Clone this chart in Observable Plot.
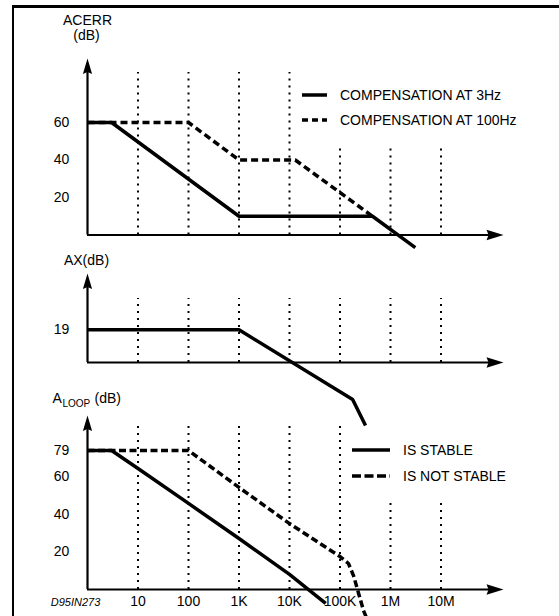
<!DOCTYPE html>
<html><head><meta charset="utf-8">
<script src="https://cdn.jsdelivr.net/npm/d3@7"></script>
<script src="https://cdn.jsdelivr.net/npm/@observablehq/plot@0.6"></script>
<style>
html,body{margin:0;padding:0;background:#fff;}
#wrap{position:relative;width:559px;height:616px;overflow:hidden;font-family:"Liberation Sans",Arial,sans-serif;color:#000;}
#wrap svg{position:absolute;left:0;top:0;overflow:visible;}
#frame{position:absolute;left:12px;top:5px;width:700px;height:800px;border-left:2px solid #000;border-top:3px solid #000;box-sizing:border-box;}
.row{position:absolute;height:20px;display:flex;align-items:center;font-size:14px;white-space:nowrap;}
.row svg{position:static !important;display:block;}
</style></head><body><div id="wrap"><div id="frame"></div></div>
<script>
// ---------- shared frequency axis ----------
const decades = [10, 100, 1e3, 1e4, 1e5, 1e6, 1e7];
const decadeLabels = ["10", "100", "1K", "10K", "100K", "1M", "10M"];
const xArrowTip = 1.73e8;
const xAxisEnd = 9.2e7;

// ---------- panel 1 : ACERR ----------
const acerrTicks = [60, 40, 20];
const acerr3HzFreq = [1, 3, 1000, 440000, 3.1e6];
const acerr3HzDb   = [60, 60, 10, 10, -6.7];
const acerr100HzFreq = [1, 100, 1000, 13000, 440000];
const acerr100HzDb   = [60, 60, 40, 40, 10];
const acerrGridTop = [86.7, 86.7, 86.7, 86.7, 46.7, 46.7, 46.7];
const acerrLegend = ["COMPENSATION AT 3Hz", "COMPENSATION AT 100Hz"];

// ---------- panel 2 : AX ----------
const axTicks = [19];
const axFreq = [1, 1000, 178000, 320000];
const axDb   = [19, 19, -21.5, -36.6];
const axGridTop = [37.2, 37.2, 37.2, 37.2, 37.2, 37.2, 37.2];

// ---------- panel 3 : ALOOP ----------
const aloopTicks = [79, 60, 40, 20];
const stableFreq = [1, 3, 10, 100, 1000, 10000, 52000];
const stableDb   = [79, 79, 65.8, 45.7, 27.1, 8.0, -7.4];
const notStableFreq = [1, 100, 1000, 10000, 100000, 147000, 185000, 222000, 292000, 366000];
const notStableDb   = [79, 79, 54.2, 35.0, 17.5, 13.8, 7.4, 0, -11.2, -17.5];
const aloopGridTop = [97.3, 97.3, 97.3, 97.3, 97.3, 47.3, 47.3];
const aloopLegend = ["IS STABLE", "IS NOT STABLE"];

const zip = (f, v) => f.map((x, i) => ({f: x, db: v[i]}));

const arrowUp = {draw(ctx){ctx.moveTo(0,0);ctx.lineTo(4.6,15.5);ctx.lineTo(0,13.5);ctx.lineTo(-4.6,15.5);ctx.closePath();}};
const arrowRight = {draw(ctx){ctx.moveTo(0,0);ctx.lineTo(5.2,17);ctx.lineTo(0,15);ctx.lineTo(-5.2,17);ctx.closePath();}};

const FONT = "Liberation Sans, Arial, sans-serif";
const xScale = {type: "log", domain: [1, 1e7], range: [87, 440.5], axis: null};

function axesMarks(yTip, yAxisTop, gridTop, ticks) {
  return [
    Plot.ruleX(decades.map((d, i) => ({f: d, top: gridTop[i]})), {x: "f", y1: 0, y2: "top", stroke: "black", strokeWidth: 2, strokeDasharray: "2,5"}),
    Plot.ruleX([1], {x: d => d, y1: 0, y2: yAxisTop, stroke: "black", strokeWidth: 2.2}),
    Plot.ruleY([0], {y: d => d, x1: 1, x2: xAxisEnd, stroke: "black", strokeWidth: 2.2}),
    Plot.dot([{f: 1, db: yTip}], {x: "f", y: "db", symbol: arrowUp, r: 1, fill: "black", stroke: "none"}),
    Plot.dot([{f: xArrowTip, db: 0}], {x: "f", y: "db", symbol: arrowRight, rotate: 90, r: 1, fill: "black", stroke: "none"}),
    Plot.text(ticks, {x: () => 1, y: d => d, text: d => String(d), dx: -26, fontSize: 14, fill: "black"})
  ];
}

const solid = {x: "f", y: "db", stroke: "black", strokeWidth: 3.5, strokeLinejoin: "miter", strokeLinecap: "butt"};
const dashed = {...solid, strokeDasharray: "7,4"};

const common = {width: 559, height: 616, margin: 0, style: {background: "transparent", overflow: "visible", fontFamily: FONT, fontSize: "14px"}};

// Panel 1
const p1 = Plot.plot({...common, x: xScale, y: {type: "linear", domain: [0, 60], range: [234.5, 122], axis: null},
  marks: [
    ...axesMarks(94.1, 86.7, acerrGridTop, acerrTicks),
    Plot.text(["ACERR"], {x: () => 1, y: () => 94.1, text: d => d, dy: -38, fontSize: 14, fill: "black"}),
    Plot.text(["(dB)"], {x: () => 1, y: () => 94.1, text: d => d, dy: -23, dx: -1, fontSize: 14, fill: "black"}),
    Plot.line(zip(acerr100HzFreq, acerr100HzDb), dashed),
    Plot.line(zip(acerr3HzFreq, acerr3HzDb), solid)
  ]});

// Panel 2
const p2 = Plot.plot({...common, x: xScale, y: {type: "linear", domain: [0, 19], range: [362, 329.3], axis: null},
  marks: [
    ...axesMarks(51.7, 43.6, axGridTop, axTicks),
    Plot.text(["AX(dB)"], {x: () => 1, y: () => 51.7, text: d => d, dy: -13, dx: -1, fontSize: 14, fill: "black"}),
    Plot.line(zip(axFreq, axDb), solid)
  ]});

// Panel 3
const p3 = Plot.plot({...common, x: xScale, y: {type: "linear", domain: [0, 60, 79], range: [589, 476, 450], axis: null},
  marks: [
    ...axesMarks(104.6, 94.3, aloopGridTop, aloopTicks),
    Plot.text(["A"], {x: () => 1, y: () => 104.6, text: d => d, dy: -17, dx: -35, textAnchor: "start", fontSize: 14, fill: "black"}),
    Plot.text(["LOOP"], {x: () => 1, y: () => 104.6, text: d => d, dy: -12, dx: -25, textAnchor: "start", fontSize: 10, fill: "black"}),
    Plot.text(["(dB)"], {x: () => 1, y: () => 104.6, text: d => d, dy: -17, dx: 7, textAnchor: "start", fontSize: 14, fill: "black"}),
    Plot.text(decades, {x: d => d, y: () => 0, text: (d, i) => decadeLabels[i], dy: 12, fontSize: 14, fill: "black"}),
    Plot.text(["D95IN273"], {x: () => 1, y: () => 0, text: d => d, dy: 13, dx: -12, fontSize: 11, fontStyle: "italic", fill: "black"}),
    Plot.line(zip(notStableFreq, notStableDb), {...dashed, strokeDasharray: "7,3.5"}),
    Plot.line(zip(stableFreq, stableDb), solid)
  ]});

const wrap = document.getElementById("wrap");
wrap.appendChild(p2);
wrap.appendChild(p1);
wrap.appendChild(p3);

// Legends (HTML, inside the chart area)
function legendRow(left, centerY, sampleLen, gap, dash, label) {
  const row = document.createElement("div");
  row.className = "row";
  row.style.left = left + "px";
  row.style.top = (centerY - 10) + "px";
  row.style.gap = gap + "px";
  row.innerHTML = `<svg width="${sampleLen}" height="10"><line x1="0" x2="${sampleLen}" y1="5" y2="5" stroke="#000" stroke-width="3.5" ${dash ? `stroke-dasharray="${dash}"` : ""}/></svg><span>${label}</span>`;
  wrap.appendChild(row);
}
legendRow(302, 95, 25, 13, null, acerrLegend[0]);
legendRow(302, 120, 25, 13, "6,4", acerrLegend[1]);
legendRow(352, 450, 38, 13, null, aloopLegend[0]);
legendRow(352, 476, 38, 13, "9,3.5", aloopLegend[1]);
</script></body></html>
